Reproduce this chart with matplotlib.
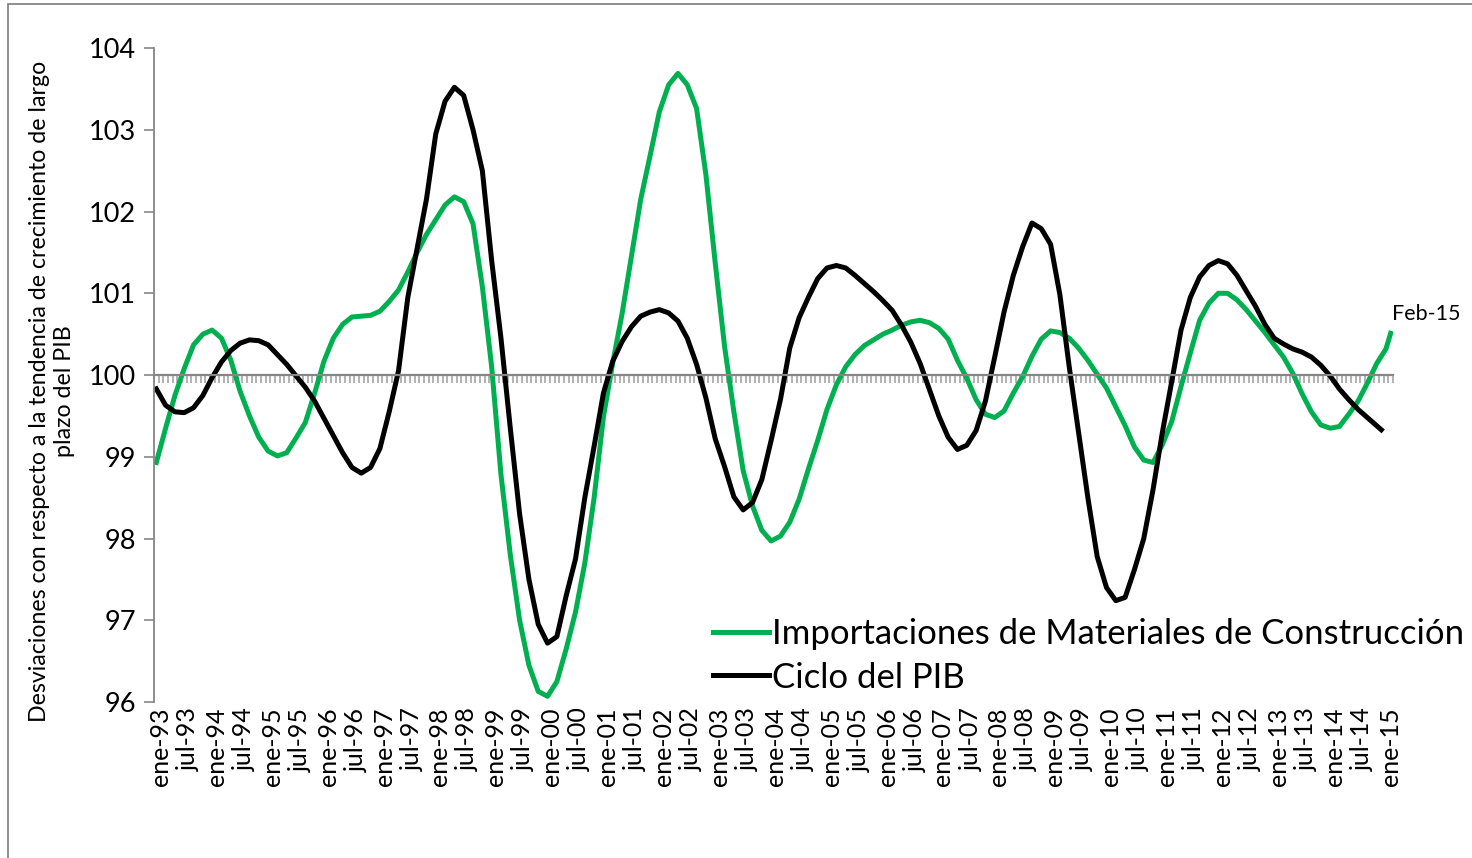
import pandas as pd
import matplotlib
matplotlib.use("Agg")
import matplotlib.pyplot as plt
from matplotlib.lines import Line2D
from matplotlib.patches import Rectangle

plt.rcParams["font.family"] = ["Lato", "DejaVu Sans"]

# Monthly categories ene-93 .. feb-15
months = pd.date_range("1993-01-01", "2015-02-01", freq="MS")
MESES = {1: "ene", 7: "jul"}

# Series, one value every second month (last value: latest month)
importaciones = [
    98.93, 99.35, 99.75, 100.08, 100.37, 100.50, 100.55, 100.45, 100.18, 99.80,
    99.50, 99.24, 99.07, 99.01, 99.05, 99.23, 99.42, 99.78, 100.17, 100.45,
    100.62, 100.71, 100.72, 100.73, 100.78, 100.90, 101.04, 101.26, 101.50, 101.72,
    101.90, 102.08, 102.18, 102.12, 101.85, 101.08, 100.10, 98.78, 97.80, 97.00,
    96.45, 96.13, 96.07, 96.25, 96.65, 97.10, 97.70, 98.50, 99.49, 100.15,
    100.75, 101.45, 102.15, 102.68, 103.22, 103.55, 103.69, 103.55, 103.26, 102.45,
    101.37, 100.35, 99.55, 98.83, 98.40, 98.10, 97.97, 98.03, 98.20, 98.48,
    98.85, 99.20, 99.58, 99.88, 100.10, 100.25, 100.36, 100.43, 100.50, 100.55,
    100.61, 100.65, 100.67, 100.64, 100.57, 100.44, 100.18, 99.96, 99.70, 99.52,
    99.48, 99.56, 99.78, 99.98, 100.23, 100.44, 100.54, 100.52, 100.45, 100.33,
    100.18, 100.01, 99.84, 99.61, 99.38, 99.12, 98.96, 98.93, 99.15, 99.43,
    99.86, 100.27, 100.67, 100.88, 101.00, 101.00, 100.92, 100.80, 100.66, 100.52,
    100.37, 100.22, 100.02, 99.77, 99.55, 99.39, 99.35, 99.37, 99.52, 99.68,
    99.90, 100.14, 100.32,
    100.51,
]
ciclo_pib = [
    99.83, 99.63, 99.55, 99.54, 99.60, 99.75, 99.97, 100.16, 100.30, 100.39,
    100.43, 100.42, 100.37, 100.25, 100.13, 99.99, 99.85, 99.68, 99.47, 99.26,
    99.05, 98.87, 98.80, 98.87, 99.10, 99.55, 100.05, 100.95, 101.55, 102.15,
    102.95, 103.35, 103.52, 103.42, 103.00, 102.50, 101.40, 100.45, 99.35, 98.30,
    97.50, 96.95, 96.72, 96.80, 97.30, 97.75, 98.50, 99.13, 99.78, 100.17,
    100.41, 100.59, 100.72, 100.77, 100.80, 100.76, 100.66, 100.45, 100.13, 99.72,
    99.22, 98.88, 98.51, 98.35, 98.44, 98.72, 99.20, 99.70, 100.33, 100.70,
    100.95, 101.18, 101.31, 101.34, 101.31, 101.22, 101.12, 101.02, 100.91, 100.79,
    100.61, 100.40, 100.14, 99.82, 99.50, 99.24, 99.09, 99.14, 99.32, 99.68,
    100.22, 100.77, 101.22, 101.57, 101.86, 101.79, 101.60, 100.98, 100.10, 99.30,
    98.50, 97.78, 97.40, 97.24, 97.28, 97.62, 98.00, 98.60, 99.30, 99.92,
    100.55, 100.95, 101.20, 101.34, 101.40, 101.36, 101.22, 101.03, 100.84, 100.62,
    100.45, 100.38, 100.32, 100.28, 100.22, 100.12, 99.99, 99.83, 99.70, 99.58,
    99.48, 99.38,
    99.33,
]

# category index of each value: every second month, then the last month of the series
idx_imp = list(range(0, 2 * (len(importaciones) - 1), 2)) + [len(months) - 1]
idx_pib = list(range(0, 2 * (len(ciclo_pib) - 1), 2)) + [2 * (len(ciclo_pib) - 2) + 1]

GREEN = "#00B050"
GRAY = "#868686"

fig = plt.figure(figsize=(14.72, 8.58), dpi=100)
ax = fig.add_axes([0.1046, 0.1818, 0.8417, 0.7622])

ax.plot(idx_imp, importaciones, color=GREEN, lw=3.6, solid_joinstyle="round")
ax.plot(idx_pib, ciclo_pib, color="black", lw=3.6, solid_joinstyle="round")

ax.set_xlim(-0.5, len(months) - 0.5)
ax.set_ylim(96, 104)

# y axis
ax.set_yticks(range(96, 105))
ax.tick_params(axis="y", direction="out", length=7, width=1.2, color=GRAY,
               labelsize=19.5, pad=6)
for s in ["top", "right"]:
    ax.spines[s].set_visible(False)
ax.spines["left"].set_color(GRAY)
ax.spines["left"].set_linewidth(1.3)

# x axis crosses at 100, one tick mark per month
ax.spines["bottom"].set_position(("data", 100))
ax.spines["bottom"].set_color(GRAY)
ax.spines["bottom"].set_linewidth(1.6)
ax.set_xticks([i - 0.5 for i in range(len(months) + 1)])
ax.set_xticklabels([])
ax.tick_params(axis="x", direction="out", length=6, width=1.2, color="#a6a6a6")

# category labels at the bottom of the plot area
for i, d in enumerate(months):
    if d.month in MESES:
        ax.annotate(f"{MESES[d.month]}-{d.strftime('%y')}", xy=(i, 96),
                    xycoords="data", xytext=(3, -4), textcoords="offset points",
                    rotation=90, ha="center", va="top", fontsize=18)

ax.annotate("Feb-15", xy=(idx_imp[-1], importaciones[-1]), xytext=(1, 14),
            textcoords="offset points", ha="left", va="center", fontsize=15.5)

fig.text(52 / 1472, 1 - 391 / 858,
         "Desviaciones con respecto a la tendencia de crecimiento de largo\nplazo del PIB",
         rotation=90, ha="center", va="center", fontsize=16.7, multialignment="center",
         linespacing=1.25)

handles = [Line2D([], [], color=GREEN, lw=3.6), Line2D([], [], color="black", lw=3.6)]
fig.legend(handles, ["Importaciones de Materiales de Construcción", "Ciclo del PIB"],
           loc="center left", bbox_to_anchor=(713 / 1472, 1 - 656 / 858),
           frameon=False, fontsize=25, handlelength=1.6, handletextpad=0.1,
           labelspacing=0.32, borderpad=0, borderaxespad=0)

fig.patches.append(Rectangle((8 / 1472, -0.1), 2, 1.1 - 4.5 / 858,
                             transform=fig.transFigure, fill=False,
                             edgecolor=GRAY, lw=1.3))

fig.savefig("out.png", dpi=100)
